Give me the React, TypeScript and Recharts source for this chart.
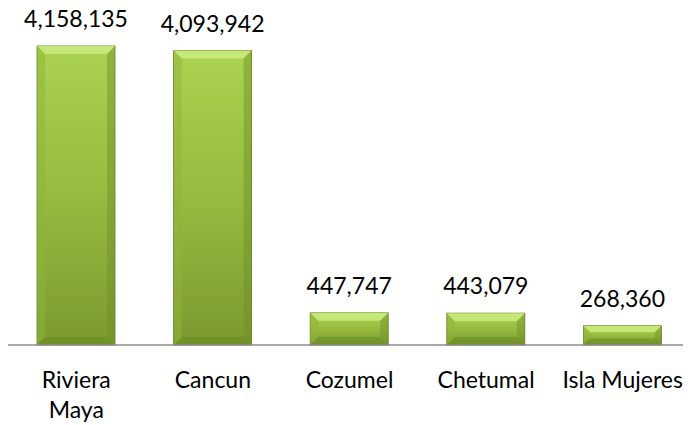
import React from 'react';
import { BarChart, Bar, XAxis, YAxis, LabelList } from 'recharts';

const destinations = ['Riviera Maya', 'Cancun', 'Cozumel', 'Chetumal', 'Isla Mujeres'];
const visitors = [4158135, 4093942, 447747, 443079, 268360];

const data = destinations.map((name, i) => ({ name, visitors: visitors[i] }));

const FONT = 'Lato, "Open Sans", sans-serif';

const BevelBar = (props: any) => {
  const { x, y, width, height } = props;
  if (!height || height <= 0) return null;
  const b = Math.min(8, height / 3);
  return <g>
      <rect x={x} y={y} width={width} height={height} fill="url(#barGrad)" stroke="#5f7a22" strokeWidth={0.8} />
      <polygon points={`${x},${y} ${x + width},${y} ${x + width - b},${y + b} ${x + b},${y + b}`} fill="#c9ea7c" opacity={0.9} />
      <polygon points={`${x},${y} ${x + b},${y + b} ${x + b},${y + height - b} ${x},${y + height}`} fill="#8fb43a" opacity={0.5} />
      <polygon points={`${x + width},${y} ${x + width - b},${y + b} ${x + width - b},${y + height - b} ${x + width},${y + height}`} fill="#6f8f28" opacity={0.45} />
      <polygon points={`${x},${y + height} ${x + b},${y + height - b} ${x + width - b},${y + height - b} ${x + width},${y + height}`} fill="#6a8a24" opacity={0.55} />
    </g>;
};

const CategoryTick = (props: any) => {
  const { x, y, payload } = props;
  const words = String(payload.value);
  const lines = words === 'Riviera Maya' ? ['Riviera', 'Maya'] : [words];
  return <text x={x} y={y} textAnchor="middle" fill="#000" fontSize={23} fontFamily={FONT}>
      {lines.map((l, i) => <tspan key={i} x={x} dy={i === 0 ? 35 : 30}>{l}</tspan>)}
    </text>;
};

const App = () => {
  return <div style={{ width: 691, height: 425, margin: '-8px 0 0 -8px' }}>
      <BarChart width={691} height={425} data={data} margin={{
      top: 46,
      right: 0,
      left: 8,
      bottom: 0
    }} barSize={78}>
        <defs>
          <linearGradient id="barGrad" x1="0" y1="0" x2="0" y2="1">
            <stop offset="0%" stopColor="#abd250" />
            <stop offset="50%" stopColor="#96bb3f" />
            <stop offset="100%" stopColor="#7a9a30" />
          </linearGradient>
        </defs>
        <XAxis dataKey="name" height={80} interval={0} tickLine={false} axisLine={{
        stroke: '#8c8c8c',
        strokeWidth: 1.5
      }} tick={<CategoryTick />} />
        <YAxis hide domain={[0, 4158135]} />
        <Bar dataKey="visitors" shape={<BevelBar />} isAnimationActive={false}>
          <LabelList dataKey="visitors" position="top" offset={19} fill="#000" fontSize={23} fontFamily={FONT} formatter={(v: any) => Number(v).toLocaleString('en-US')} />
        </Bar>
      </BarChart>
    </div>;
};

export default App;
